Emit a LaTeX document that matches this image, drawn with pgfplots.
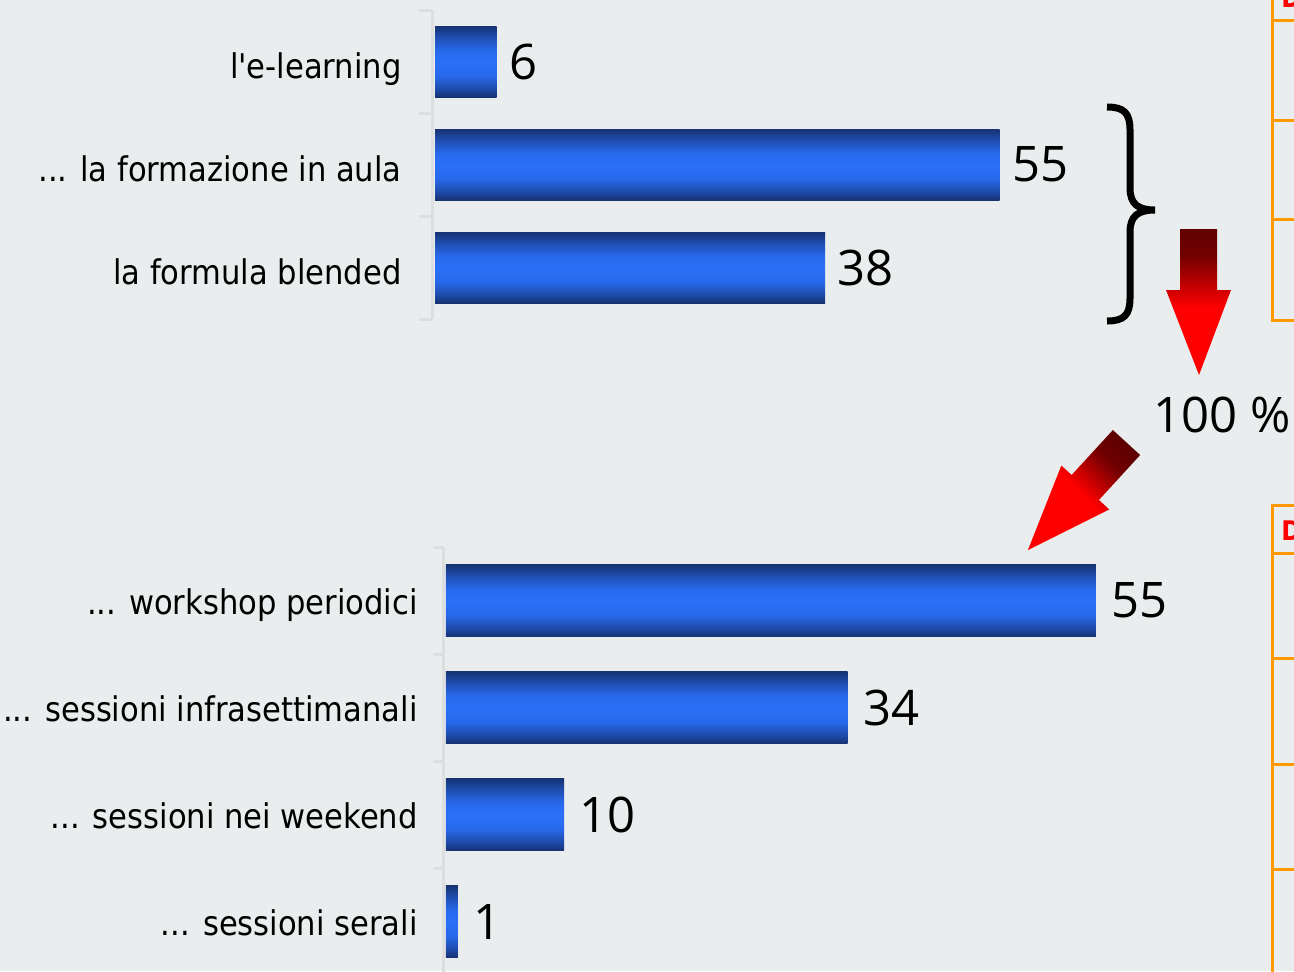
\documentclass[border=0pt]{standalone}
\usepackage{fontspec}
\usepackage{pgfplots}
\pgfplotsset{compat=1.18}
\setmainfont{DejaVu Sans Condensed}
\newfontfamily\numfont{Open Sans}

\definecolor{bgcol}{RGB}{233,237,238}
\definecolor{axisgray}{RGB}{220,222,224}
\definecolor{bdark}{RGB}{22,50,115}
\definecolor{bmid}{RGB}{30,75,170}
\definecolor{bhi}{RGB}{40,105,235}
\definecolor{bbright}{RGB}{42,112,248}
\definecolor{rdark}{RGB}{95,0,0}
\definecolor{rdk2}{RGB}{115,0,0}
\definecolor{rmid}{RGB}{200,0,0}
\definecolor{rbright}{RGB}{255,0,0}
\definecolor{boxorange}{RGB}{255,153,0}

\pgfdeclareverticalshading{barshade}{100bp}{color(0bp)=(bdark); color(25bp)=(bdark); color(31bp)=(bmid); color(40bp)=(bhi); color(50bp)=(bbright); color(58bp)=(bhi); color(68bp)=(bmid); color(75bp)=(bdark); color(100bp)=(bdark)}
\pgfdeclareverticalshading{arrowshade}{100bp}{color(0bp)=(rbright); color(25bp)=(rbright); color(48bp)=(rbright); color(55bp)=(rmid); color(66bp)=(rdk2); color(75bp)=(rdark); color(100bp)=(rdark)}

\newcommand{\lblfont}{\fontsize{17pt}{20pt}\selectfont}
\newcommand{\valfont}{\numfont\fontsize{24.5pt}{28pt}\selectfont}
\newcommand{\ddd}{...}

\pgfplotsset{
  hbars/.style={
    scale only axis, clip=false,
    xmin=-0.3, xmax=59.7,
    y dir=reverse,
    axis x line=none, axis y line*=left,
    y axis line style={draw=axisgray, line width=1.5pt, -},
    tick align=outside,
    major tick length=0pt,
    minor tick style={draw=axisgray, line width=1.5pt},
    yticklabel style={font=\lblfont, anchor=base east, inner sep=0pt},
    /pgf/number format/assume math mode=true,
  },
  bar/.style={xbar, bar shift=0pt, bar width=#1, draw=none, shading=barshade},
  vals/.style={draw=none, mark=none, point meta=x, nodes near coords,
    nodes near coords style={font=\valfont, anchor=west, inner sep=0pt, xshift=#1, text=black}},
}

\begin{document}
\begin{tikzpicture}
\useasboundingbox (0,0) rectangle (647pt,-485.5pt);
\clip (0,0) rectangle (647pt,-485.5pt);
\fill[bgcol] (0,0) rectangle (647pt,-485.5pt);

% top chart
\begin{axis}[hbars,
  at={(432*0.5pt,-10*0.5pt)}, anchor=north west,
  width=308pt, height=154.5pt,
  ymin=-0.5, ymax=2.5,
  ytick={0,1,2},
  yticklabels={l\textquotesingle e-learning, \ddd{} la formazione in aula, la formula blended},
  minor ytick={-0.5,0.5,1.5,2.5},
  minor tick length=6.5pt,
  yticklabel style={xshift=-15pt, yshift=-8.5pt},
]
\addplot[bar=35.5pt] coordinates {(6,0)};
\addplot[bar=35.5pt] coordinates {(55,1)};
\addplot[bar=35.5pt] coordinates {(38,2)};
\addplot[vals=6pt] coordinates {(6,0) (55,1) (38,2)};
\end{axis}

% bottom chart
\begin{axis}[hbars,
  at={(443*0.5pt,-547*0.5pt)}, anchor=north west,
  width=354.5pt, height=214pt,
  xmin=-0.25, xmax=59.75,
  ymin=-0.5, ymax=3.5,
  ytick={0,1,2,3},
  yticklabels={\ddd{} workshop periodici, \ddd{} sessioni infrasettimanali, \ddd{} sessioni nei weekend, \ddd{} sessioni serali},
  minor ytick={-0.5,0.5,1.5,2.5,3.5},
  minor tick length=5pt,
  yticklabel style={xshift=-12.5pt, yshift=-7pt},
]
\addplot[bar=36pt] coordinates {(55,0)};
\addplot[bar=36pt] coordinates {(34,1)};
\addplot[bar=36pt] coordinates {(10,2)};
\addplot[bar=36pt] coordinates {(1,3)};
\addplot[vals=7.5pt] coordinates {(55,0) (34,1) (10,2) (1,3)};
\end{axis}

\begin{scope}[x=0.5pt, y=-0.5pt]
  % brace
  \draw[line width=3.5pt]
    (1107,107) .. controls (1124,107) and (1130,113) .. (1130,130)
    -- (1130,188) .. controls (1130,204) and (1138,210) .. (1155,210)
    .. controls (1138,210) and (1130,216) .. (1130,232)
    -- (1130,298) .. controls (1130,315) and (1124,321) .. (1107,321);
  % vertical arrow
  \path[shading=arrowshade]
    (1180,229) -- (1217,229) -- (1217,290) -- (1231,290) -- (1199,375)
    -- (1166,290) -- (1180,290) -- cycle;
  % diagonal arrow
  \begin{scope}[shift={(1126.5,442.5)}, rotate=-42.5]
    \path[shading=arrowshade, shading angle=-45]
      (-18.5,0) -- (18.5,0) -- (18.5,61) -- (32.5,61) -- (0,146)
      -- (-32.5,61) -- (-18.5,61) -- cycle;
  \end{scope}
  \node[font=\valfont, anchor=base west, inner sep=0pt] at (1153,432) {100 \%};
  % orange boxes on the right
  \draw[boxorange, line width=1.5pt]
    (1272,-5) -- (1272,320) -- (1300,320)
    (1272,20) -- (1300,20) (1272,120) -- (1300,120) (1272,219) -- (1300,219);
  \draw[boxorange, line width=1.5pt]
    (1300,505) -- (1272,505) -- (1272,980)
    (1272,553) -- (1300,553) (1272,658) -- (1300,658)
    (1272,764) -- (1300,764) (1272,869) -- (1300,869);
  \node[text=red, font=\fontsize{13.5pt}{16pt}\selectfont\bfseries, anchor=base west, inner sep=0pt] at (1281,7) {D};
  \node[text=red, font=\fontsize{13.5pt}{16pt}\selectfont\bfseries, anchor=base west, inner sep=0pt] at (1281,540) {D};
\end{scope}
\end{tikzpicture}
\end{document}
